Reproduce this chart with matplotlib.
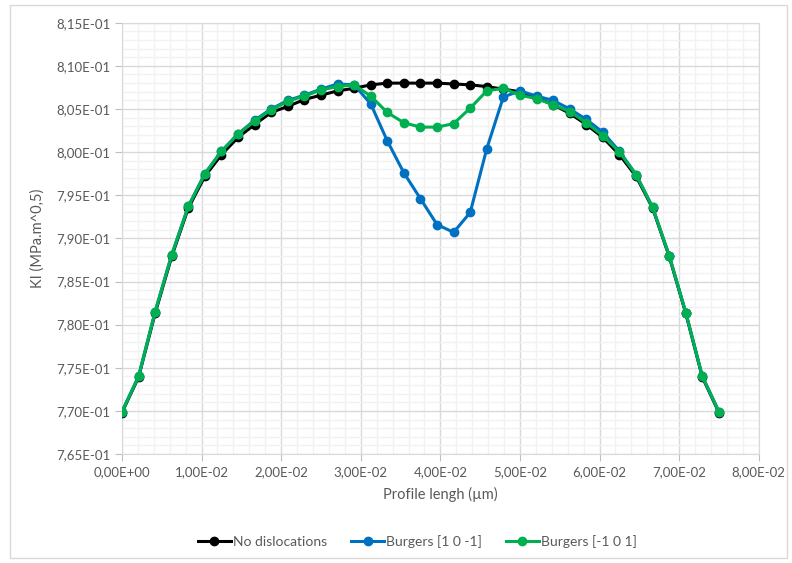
import matplotlib
matplotlib.use("Agg")
import matplotlib.pyplot as plt
import numpy as np
from matplotlib.ticker import MultipleLocator, FuncFormatter
from matplotlib.patches import Rectangle

plt.rcParams['font.family'] = ['Lato', 'DejaVu Sans']

# profile positions (37 points from 0 to 7.5E-02)
n_points = 37
profile = np.linspace(0.0, 0.075, n_points)

no_disloc = [0.7698, 0.7739, 0.7813, 0.7879, 0.7935, 0.7972, 0.7997, 0.8017, 0.8032,
             0.8046, 0.8053, 0.8061, 0.8066, 0.8071, 0.8074, 0.8078, 0.8080, 0.8080,
             0.8080, 0.8080, 0.8079, 0.8078, 0.8076, 0.8073, 0.8070, 0.8063, 0.8055,
             0.8045, 0.8032, 0.8017, 0.7997, 0.7972, 0.7935, 0.7879, 0.7813, 0.7739,
             0.7698]

burgers_a = [0.7699, 0.7740, 0.7815, 0.7881, 0.7937, 0.7975, 0.8001, 0.8021, 0.8037,
             0.8050, 0.8060, 0.8066, 0.8073, 0.8079, 0.8078, 0.8056, 0.8013, 0.7976,
             0.7946, 0.7916, 0.7907, 0.7930, 0.8004, 0.8064, 0.8071, 0.8065, 0.8060,
             0.8050, 0.8038, 0.8023, 0.8001, 0.7974, 0.7936, 0.7880, 0.7814, 0.7740,
             0.7699]

burgers_b = [0.7699, 0.7740, 0.7815, 0.7881, 0.7937, 0.7975, 0.8001, 0.8021, 0.8036,
             0.8049, 0.8059, 0.8065, 0.8072, 0.8076, 0.8078, 0.8065, 0.8046, 0.8034,
             0.8029, 0.8029, 0.8033, 0.8051, 0.8071, 0.8074, 0.8066, 0.8062, 0.8055,
             0.8047, 0.8034, 0.8019, 0.8000, 0.7974, 0.7936, 0.7880, 0.7814, 0.7740,
             0.7699]

labels = ['No dislocations', 'Burgers [1 0 -1]', 'Burgers [-1 0 1]']
colors = ['#000000', '#0070C0', '#00B050']

fig = plt.figure(figsize=(7.92, 5.63), dpi=100)
ax = fig.add_axes([0.154, 0.1936, 0.804, 0.766])

for ys, lab, c in zip([no_disloc, burgers_a, burgers_b], labels, colors):
    ax.plot(profile, ys, '-o', color=c, label=lab, lw=2.2, ms=6, zorder=3)

ax.set_xlim(0, 0.08)
ax.set_ylim(0.765, 0.815)
ax.xaxis.set_major_locator(MultipleLocator(0.01))
ax.xaxis.set_minor_locator(MultipleLocator(0.002))
ax.yaxis.set_major_locator(MultipleLocator(0.005))
ax.yaxis.set_minor_locator(MultipleLocator(0.001))

sci = FuncFormatter(lambda v, p: f"{v:.2E}".replace('.', ','))
ax.xaxis.set_major_formatter(sci)
ax.yaxis.set_major_formatter(sci)

ax.grid(which='major', color='#d9d9d9', lw=1.0, zorder=0)
ax.grid(which='minor', color='#f2f2f2', lw=1.0, zorder=0)
ax.set_axisbelow(True)
for s in ax.spines.values():
    s.set_color('#d9d9d9')
ax.tick_params(which='major', length=5, color='#bfbfbf', labelsize=9.5, labelcolor='#595959')
ax.tick_params(which='minor', length=0)
ax.tick_params(axis='x', pad=4)

ax.set_xlabel('Profile lengh (µm)', fontsize=10.5, color='#595959', labelpad=6)
ax.set_ylabel('KI (MPa.m^0,5)', fontsize=10.5, color='#595959', labelpad=8)

leg = fig.legend(loc='center', bbox_to_anchor=(0.527, 0.038), ncol=3, frameon=False,
                 fontsize=10, handlelength=2.4, columnspacing=1.7, handletextpad=0.15,
                 numpoints=1)
for t in leg.get_texts():
    t.set_color('#595959')

fig.patches.append(Rectangle((0.012, 0.008), 0.982, 0.984, transform=fig.transFigure,
                             fill=False, edgecolor='#d9d9d9', lw=1.0))

fig.savefig('out.png', dpi=100)
